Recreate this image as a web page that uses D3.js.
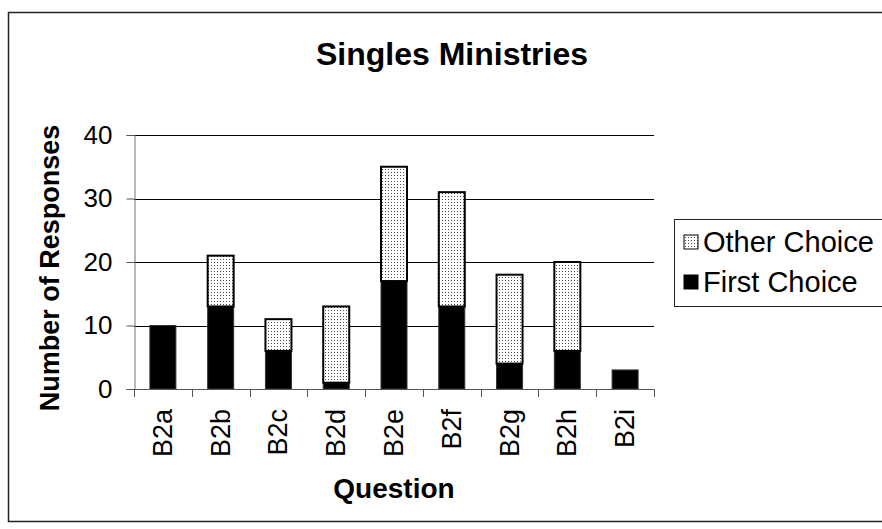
<!DOCTYPE html>
<html>
<head>
<meta charset="utf-8">
<script src="https://cdn.jsdelivr.net/npm/d3@7/dist/d3.min.js"></script>
<style>
  html, body { margin: 0; padding: 0; background: #fff; }
  svg { display: block; font-family: "Liberation Sans", Arial, sans-serif; }
</style>
</head>
<body>
<svg id="chart" width="882" height="529"></svg>
<script>
// Survey responses per question
const questions = ["B2a", "B2b", "B2c", "B2d", "B2e", "B2f", "B2g", "B2h", "B2i"];
const firstChoice = [10, 13, 6, 1, 17, 13, 4, 6, 3];
const otherChoice = [0, 8, 5, 12, 18, 18, 14, 14, 0];
const yTicks = [0, 10, 20, 30, 40];
const seriesNames = ["Other Choice", "First Choice"];

const svg = d3.select("#chart");

// stipple fill for the "Other Choice" segments
const defs = svg.append("defs");
const pat = defs.append("pattern")
  .attr("id", "stipple")
  .attr("patternUnits", "userSpaceOnUse")
  .attr("width", 3).attr("height", 3);
pat.append("rect").attr("width", 3).attr("height", 3).attr("fill", "#fff");
pat.append("rect").attr("x", 1).attr("y", 1).attr("width", 1).attr("height", 1).attr("fill", "#4a4a4a");

// outer frame
svg.append("rect")
  .attr("x", 8.5).attr("y", 12.5)
  .attr("width", 890).attr("height", 509)
  .attr("fill", "none").attr("stroke", "#222").attr("stroke-width", 1.5);

const plot = { left: 134, right: 654, top: 135, bottom: 389 };

const x = d3.scaleBand()
  .domain(questions)
  .range([plot.left, plot.right])
  .paddingInner(0.55)
  .paddingOuter(0.275);

const y = d3.scaleLinear()
  .domain([0, 40])
  .range([plot.bottom, plot.top]);

// horizontal gridlines
svg.append("g")
  .selectAll("line")
  .data(yTicks.filter(d => d > 0))
  .join("line")
  .attr("x1", plot.left).attr("x2", plot.right)
  .attr("y1", d => Math.round(y(d)) + 0.5).attr("y2", d => Math.round(y(d)) + 0.5)
  .attr("stroke", "#000").attr("stroke-width", 1);

// y axis
const yAxis = svg.append("g")
  .attr("transform", `translate(${plot.left + 0.5},0)`)
  .call(d3.axisLeft(y).tickValues(yTicks).tickSize(8).tickPadding(14).tickFormat(d3.format("d")));
yAxis.select(".domain").attr("stroke", "#777").attr("stroke-width", 1);
yAxis.selectAll(".tick line").attr("stroke", "#555");
yAxis.selectAll(".tick text")
  .attr("font-size", 26).attr("fill", "#000")
  .attr("font-family", "Liberation Sans, Arial, sans-serif");

// stacked bars
const stackData = questions.map((q, i) => ({ q, first: firstChoice[i], other: otherChoice[i] }));
const stacked = d3.stack().keys(["first", "other"])(stackData);

const bars = svg.append("g");
bars.selectAll("rect.first")
  .data(stacked[0])
  .join("rect")
  .attr("class", "first")
  .attr("x", d => x(d.data.q))
  .attr("width", x.bandwidth())
  .attr("y", d => y(d[1]))
  .attr("height", d => y(d[0]) - y(d[1]))
  .attr("fill", "#000")
  .attr("stroke", "#333").attr("stroke-width", 1);

bars.selectAll("rect.other")
  .data(stacked[1].filter(d => d[1] > d[0]))
  .join("rect")
  .attr("class", "other")
  .attr("x", d => x(d.data.q))
  .attr("width", x.bandwidth())
  .attr("y", d => y(d[1]))
  .attr("height", d => y(d[0]) - y(d[1]))
  .attr("fill", "url(#stipple)")
  .attr("stroke", "#000").attr("stroke-width", 2);

// x axis with ticks at category boundaries
const xg = svg.append("g");
xg.append("line")
  .attr("x1", plot.left).attr("x2", plot.right)
  .attr("y1", plot.bottom + 0.5).attr("y2", plot.bottom + 0.5)
  .attr("stroke", "#555");
const bounds = d3.range(questions.length + 1).map(i => plot.left + i * (plot.right - plot.left) / questions.length);
xg.selectAll("line.tk")
  .data(bounds)
  .join("line")
  .attr("class", "tk")
  .attr("x1", d => Math.round(d) + 0.5).attr("x2", d => Math.round(d) + 0.5)
  .attr("y1", plot.bottom).attr("y2", plot.bottom + 8)
  .attr("stroke", "#555");
xg.selectAll("text")
  .data(questions)
  .join("text")
  .attr("transform", d => `translate(${x(d) + x.bandwidth() / 2 + 9},409) rotate(-90)`)
  .attr("text-anchor", "end")
  .attr("font-size", 27)
  .text(d => d);

// titles
svg.append("text")
  .attr("x", 452).attr("y", 65)
  .attr("text-anchor", "middle")
  .attr("font-size", 32).attr("font-weight", "bold")
  .text("Singles Ministries");

svg.append("text")
  .attr("x", (plot.left + plot.right) / 2).attr("y", 498)
  .attr("text-anchor", "middle")
  .attr("font-size", 28).attr("font-weight", "bold")
  .text("Question");

svg.append("text")
  .attr("transform", `translate(59,268) rotate(-90)`)
  .attr("text-anchor", "middle")
  .attr("font-size", 27).attr("font-weight", "bold")
  .text("Number of Responses");

// legend
const legend = svg.append("g");
legend.append("rect")
  .attr("x", 674.5).attr("y", 219.5)
  .attr("width", 230).attr("height", 87)
  .attr("fill", "#fff").attr("stroke", "#222").attr("stroke-width", 1);
const legendFill = { "Other Choice": "url(#stipple)", "First Choice": "#000" };
const li = legend.selectAll("g.item")
  .data(seriesNames)
  .join("g")
  .attr("class", "item")
  .attr("transform", (d, i) => `translate(684,${242 + i * 40})`);
li.append("rect")
  .attr("x", 0).attr("y", -7)
  .attr("width", 14).attr("height", 14)
  .attr("fill", d => legendFill[d])
  .attr("stroke", "#000").attr("stroke-width", 1);
li.append("text")
  .attr("x", 19).attr("y", 10)
  .attr("font-size", 29)
  .text(d => d);
</script>
</body>
</html>
